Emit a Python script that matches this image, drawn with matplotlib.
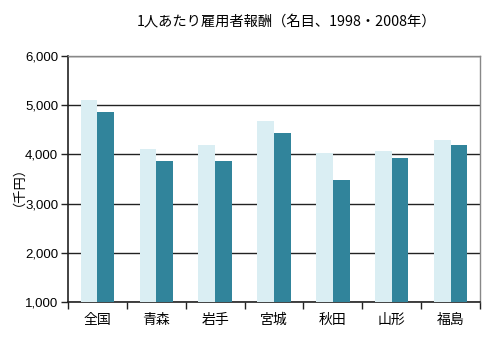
import numpy as np
import matplotlib
matplotlib.use('Agg')
import matplotlib.pyplot as plt
from matplotlib.ticker import FuncFormatter, FixedLocator

plt.rcParams['font.family'] = ['Noto Sans CJK JP', 'DejaVu Sans']

# data (千円)
regions = ['全国', '青森', '岩手', '宮城', '秋田', '山形', '福島']
y1998 = [5100, 4100, 4200, 4670, 4030, 4070, 4300]
y2008 = [4860, 3860, 3860, 4430, 3470, 3930, 4200]

light = '#DAEEF3'
dark = '#31849B'

fig = plt.figure(figsize=(5.0, 3.54), dpi=100)
ax = fig.add_axes([68/500, 1 - 302/354, (480-68)/500, (302-56)/354])

x = np.arange(len(regions))
w = 0.283
ax.bar(x - w/2, np.array(y1998) - 1000, width=w, bottom=1000, color=light, zorder=3)
ax.bar(x + w/2, np.array(y2008) - 1000, width=w, bottom=1000, color=dark, zorder=3)

ax.set_xlim(-0.5, len(regions) - 0.5)
ax.set_ylim(1000, 6000)
ax.set_yticks([1000, 2000, 3000, 4000, 5000, 6000])
ax.yaxis.set_major_formatter(FuncFormatter(lambda v, p: f'{int(v):,}'))
ax.yaxis.grid(True, color='#222222', linewidth=1.0, zorder=1)

ax.set_xticks(x)
ax.set_xticklabels(regions, fontsize=10)
ax.tick_params(axis='x', which='major', length=0, pad=8)
ax.xaxis.set_minor_locator(FixedLocator(np.arange(-0.5, len(regions), 1.0)))
ax.tick_params(axis='x', which='minor', length=5, width=1, color='#222222', direction='out')
ax.tick_params(axis='y', length=5, width=1, color='#222222', direction='out', labelsize=9.5, pad=2)
for lab in ax.get_yticklabels():
    lab.set_family(['Liberation Sans', 'DejaVu Sans'])

for s in ['left', 'bottom']:
    ax.spines[s].set_color('#222222')
    ax.spines[s].set_linewidth(1.2)
for s in ['top', 'right']:
    ax.spines[s].set_color('#888888')
    ax.spines[s].set_linewidth(1.0)
ax.set_axisbelow(True)

fig.text(287/500, 1 - 22/354, '1人あたり雇用者報酬（名目、1998・2008年）', ha='center', va='center', fontsize=10.3)
fig.text(12/500, 1 - 180/354, '（千円）', ha='center', va='center', rotation=90, fontsize=9.5)

fig.savefig('out.png', dpi=100)
